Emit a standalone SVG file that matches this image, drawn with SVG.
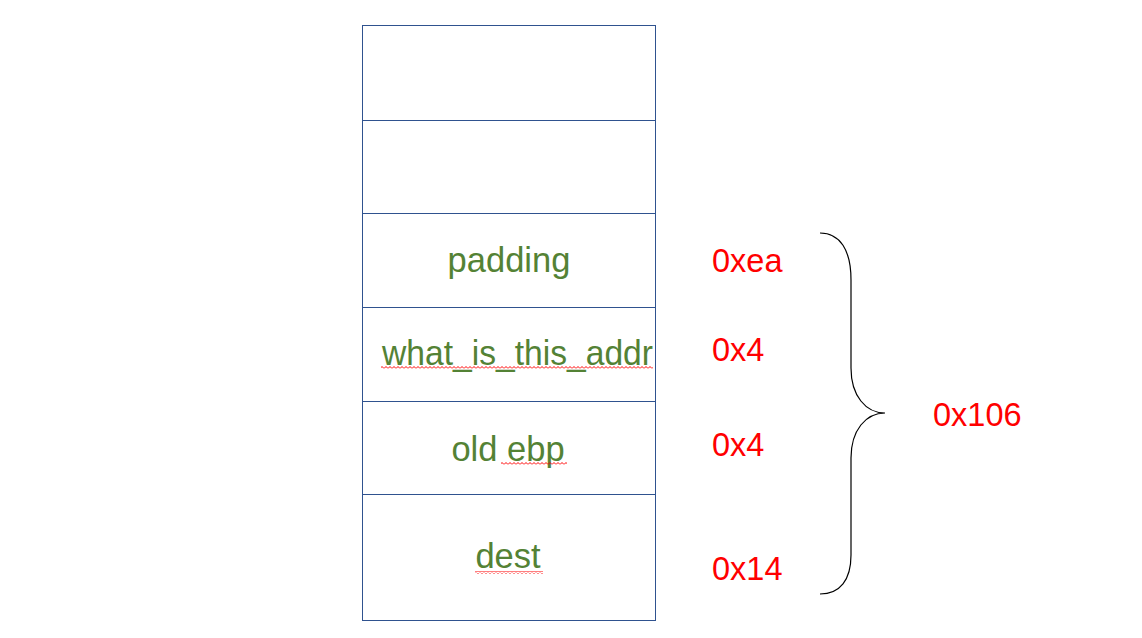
<svg xmlns="http://www.w3.org/2000/svg" width="1142" height="638" viewBox="0 0 1142 638">
<style>
.cell{fill:#fff;stroke:#2F528F;stroke-width:1}
.lbl{font-family:"Liberation Sans",Arial,sans-serif;font-size:34.5px;fill:#548235;text-anchor:middle}
.off{font-family:"Liberation Sans",Arial,sans-serif;font-size:32.5px;fill:#FF0000}
.brace{fill:none;stroke:#000;stroke-width:1.2}
</style>
<defs>
<pattern id="wave" x="0" y="0" width="4" height="3" patternUnits="userSpaceOnUse">
<path d="M0,2.5 L2,0.5 L4,2.5" fill="none" stroke="#FF0000" stroke-width="1"/>
</pattern>
</defs>
<rect width="1142" height="638" fill="#fff"/>
<g id="stack">
<g id="cell-top1"><rect class="cell" x="362.5" y="25.5" width="293" height="95"/></g>
<g id="cell-top2"><rect class="cell" x="362.5" y="120.5" width="293" height="93"/></g>
<g id="cell-padding"><rect class="cell" x="362.5" y="213.5" width="293" height="94"/>
<text class="lbl" x="509" y="272">padding</text></g>
<g id="cell-addr"><rect class="cell" x="362.5" y="307.5" width="293" height="94"/>
<text class="lbl" x="382" y="365" style="text-anchor:start" textLength="271" lengthAdjust="spacingAndGlyphs">what_is_this_addr</text>
<rect x="381" y="366" width="272" height="3" fill="url(#wave)"/></g>
<g id="cell-ebp"><rect class="cell" x="362.5" y="401.5" width="293" height="93"/>
<text class="lbl" x="508" y="461">old ebp</text>
<rect x="501" y="462" width="66" height="3" fill="url(#wave)"/></g>
<g id="cell-dest"><rect class="cell" x="362.5" y="494.5" width="293" height="126"/>
<text class="lbl" x="508" y="568">dest</text>
<rect x="475" y="571" width="68" height="3" fill="url(#wave)"/></g>
</g>
<g id="offsets">
<text class="off" x="712" y="272">0xea</text>
<text class="off" x="712" y="361">0x4</text>
<text class="off" x="712" y="456">0x4</text>
<text class="off" x="712" y="580">0x14</text>
</g>
<g id="connectors">
<path class="brace" d="M820,233 C840,233 851,250 851,280 L851,368 C851,396 866,413 885,413 C866,413 851,430 851,458 L851,555 C851,580 840,594 820,594"/>
</g>
<g id="total">
<text class="off" x="933" y="426">0x106</text>
</g>
</svg>
